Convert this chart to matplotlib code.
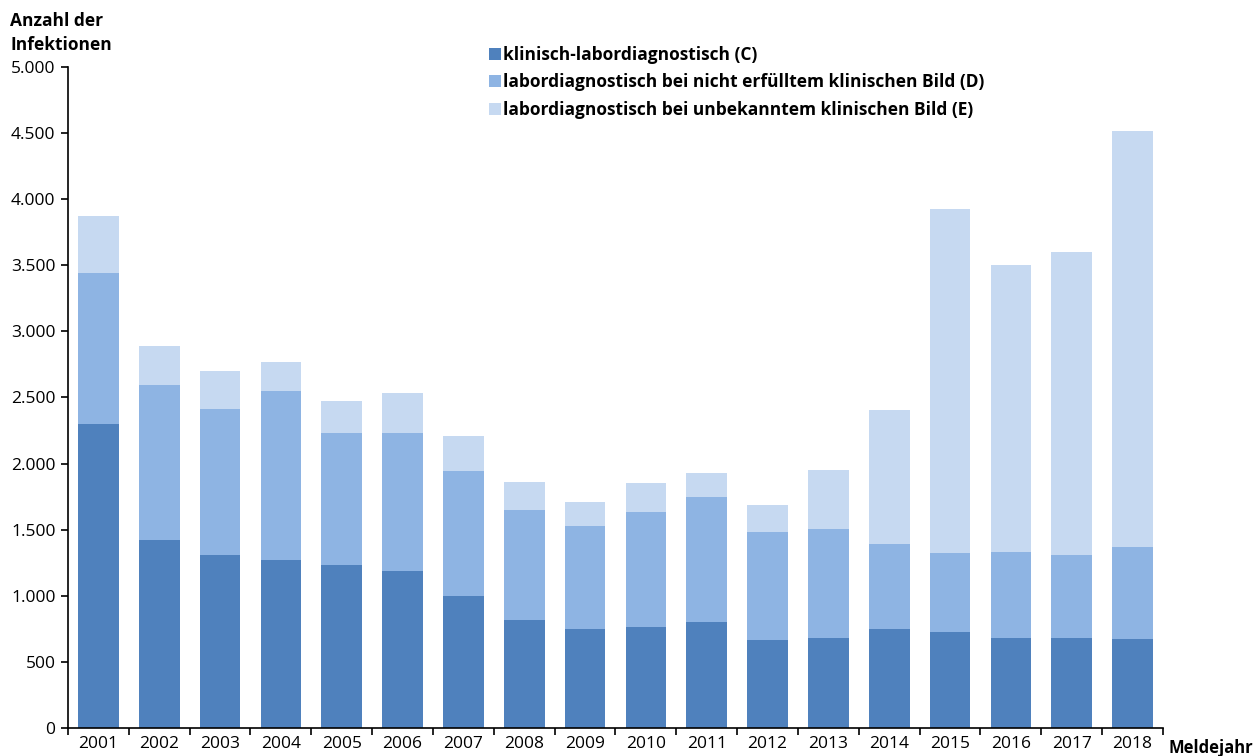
import matplotlib
matplotlib.use("Agg")
import matplotlib.pyplot as plt
import numpy as np
from matplotlib.ticker import FixedLocator, FuncFormatter

years = [str(y) for y in range(2001, 2019)]
klinisch_labor = [2300, 1422, 1309, 1271, 1233, 1188, 999, 817, 749, 764, 802, 666, 681, 749, 726, 681, 681, 673]
labor_nicht_erfuellt = [1142, 1173, 1104, 1278, 999, 1044, 945, 832, 779, 870, 946, 817, 824, 643, 598, 650, 628, 696]
labor_unbekannt = [431, 295, 288, 220, 242, 302, 265, 212, 182, 219, 181, 204, 447, 1014, 2602, 2172, 2292, 3147]

labels = ["klinisch-labordiagnostisch (C)",
          "labordiagnostisch bei nicht erfülltem klinischen Bild (D)",
          "labordiagnostisch bei unbekanntem klinischen Bild (E)"]
colors = ["#4F81BD", "#8EB4E3", "#C6D9F1"]

plt.rcParams['font.family'] = ['Open Sans', 'DejaVu Sans']

fig = plt.figure(figsize=(12.56, 7.56), dpi=100)
ax = fig.add_axes([68/1256, 1-728/756, (1163-68)/1256, (728-67)/756])

x = np.arange(len(years))
c = np.array(klinisch_labor)
d = np.array(labor_nicht_erfuellt)
e = np.array(labor_unbekannt)
w = 0.67
ax.bar(x, c, w, color=colors[0], label=labels[0])
ax.bar(x, d, w, bottom=c, color=colors[1], label=labels[1])
ax.bar(x, e, w, bottom=c + d, color=colors[2], label=labels[2])

ax.set_xlim(-0.5, len(years) - 0.5)
ax.set_ylim(0, 5000)
for s in ["top", "right"]:
    ax.spines[s].set_visible(False)
for s in ["left", "bottom"]:
    ax.spines[s].set_linewidth(1.2)

ax.set_yticks(np.arange(0, 5001, 500))
ax.yaxis.set_major_formatter(FuncFormatter(lambda v, p: f"{int(v):,}".replace(",", ".")))
ax.tick_params(axis='y', direction='out', length=5, width=1.2, labelsize=12.5, pad=4)

ax.set_xticks(x)
ax.set_xticklabels(years)
ax.tick_params(axis='x', which='major', length=0, labelsize=12.5, pad=6)
ax.xaxis.set_minor_locator(FixedLocator(np.arange(-0.5, len(years), 1.0)))
ax.tick_params(axis='x', which='minor', direction='out', length=5, width=1.2)

fig.text(10/1256, 1-33/756, "Anzahl der\nInfektionen", fontsize=12.5, fontweight='bold',
         ha='left', va='center', linespacing=1.5)
fig.text(1253/1256, 1-748/756, "Meldejahr", fontsize=12, fontweight='bold', ha='right', va='center')

leg = ax.legend(loc='upper left', bbox_to_anchor=(412/1095, 1.045), frameon=False,
                prop={'weight': 'bold', 'size': 12.5}, handlelength=0.7, handleheight=0.7,
                handletextpad=0.15, labelspacing=0.55, borderpad=0)

fig.savefig("out.png", dpi=100, facecolor='white')
